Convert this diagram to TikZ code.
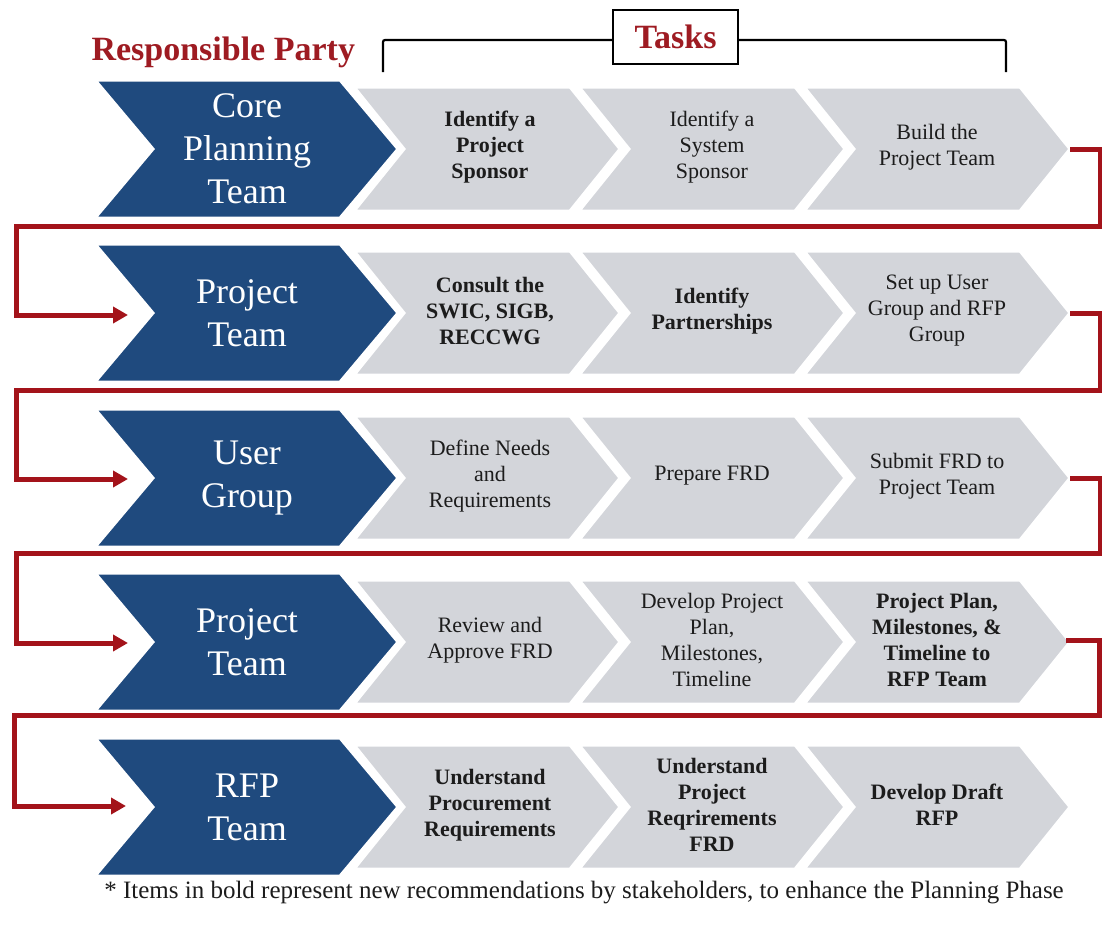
\documentclass[tikz,border=0pt]{standalone}
\usepackage{fontspec}
\setmainfont{Liberation Serif}
\usetikzlibrary{arrows.meta}
\definecolor{navy}{HTML}{1F4A7E}
\definecolor{chevgray}{HTML}{D3D5DA}
\definecolor{flowred}{HTML}{A3131A}
\definecolor{headred}{HTML}{9E1B22}
\definecolor{inktext}{HTML}{1C1C1C}
\begin{document}
\begin{tikzpicture}[x=1pt,y=-1pt,
  bluechev/.style={fill=navy, draw=white, line width=3pt, line join=miter},
  graychev/.style={fill=chevgray, draw=white, line width=3pt, line join=miter},
  bluetext/.style={text=white, align=center, font=\fontsize{36}{43}\selectfont},
  tasktext/.style={text=inktext, align=center, font=\fontsize{22}{26}\selectfont},
  taskbold/.style={text=inktext, align=center, font=\fontsize{22}{26}\selectfont\bfseries},
  headtext/.style={text=headred, font=\fontsize{34}{38}\selectfont\bfseries},
  flow/.style={draw=flowred, line width=5pt, line join=miter, -{Triangle[length=15pt,width=16pt]}},
  bracket/.style={draw=black, line width=2.2pt, rounded corners=2pt}
]
\useasboundingbox (0,0) rectangle (1102,926);
\fill[white] (0,0) rectangle (1102,926);

% chevrons
\foreach \cy in {149,313,478,642,807}{
  \foreach \x in {354,579,804}{
    \draw[graychev] (\x,\cy-62) -- ++(216,0) -- ++(50,62) -- ++(-50,62) -- ++(-216,0) -- ++(50,-62) -- cycle;
  }
  \draw[bluechev] (95,\cy-69) -- (340,\cy-69) -- (398,\cy) -- (340,\cy+69) -- (95,\cy+69) -- (153,\cy) -- cycle;
}

% header
\node[headtext, anchor=base west] (resp) at (88,60) {Responsible Party};
\node[headtext, draw=black, line width=1.4pt, fill=white, minimum width=125pt, minimum height=54pt, inner sep=0pt] (tasks) at (675.5,37) {Tasks};
\draw[bracket] (383,72) -- (383,40) -- (tasks.west |- 0,40);
\draw[bracket] (tasks.east |- 0,40) -- (1006,40) -- (1006,72);

% responsible parties
\node[bluetext] (p1) at (247,149) {Core\\Planning\\Team};
\node[bluetext] (p2) at (247,313) {Project\\Team};
\node[bluetext] (p3) at (247,478) {User\\Group};
\node[bluetext] (p4) at (247,642) {Project\\Team};
\node[bluetext] (p5) at (247,807) {RFP\\Team};

% tasks row 1
\node[taskbold] (t11) at (490,147) {Identify a\\Project\\Sponsor};
\node[tasktext] (t12) at (712,147) {Identify a\\System\\Sponsor};
\node[tasktext] (t13) at (937,147) {Build the\\Project Team};
% row 2
\node[taskbold] (t21) at (490,311) {Consult the\\SWIC, SIGB,\\RECCWG};
\node[taskbold] (t22) at (712,311) {Identify\\Partnerships};
\node[tasktext] (t23) at (937,311) {Set up User\\Group and RFP\\Group};
% row 3
\node[tasktext] (t31) at (490,476) {Define Needs\\and\\Requirements};
\node[tasktext] (t32) at (712,476) {Prepare FRD};
\node[tasktext] (t33) at (937,476) {Submit FRD to\\Project Team};
% row 4
\node[tasktext] (t41) at (490,640) {Review and\\Approve FRD};
\node[tasktext] (t42) at (712,640) {Develop Project\\Plan,\\Milestones,\\Timeline};
\node[taskbold] (t43) at (937,640) {Project Plan,\\Milestones, \&\\Timeline to\\RFP Team};
% row 5
\node[taskbold] (t51) at (490,805) {Understand\\Procurement\\Requirements};
\node[taskbold] (t52) at (712,805) {Understand\\Project\\Reqrirements\\FRD};
\node[taskbold] (t53) at (937,805) {Develop Draft\\RFP};

% connector end points
\coordinate (out1) at (1070,149);
\coordinate (out2) at (1070,313);
\coordinate (out3) at (1070,478);
\coordinate (out4) at (1066,640);
\coordinate (in2) at (128,315);
\coordinate (in3) at (128,479);
\coordinate (in4) at (128,643);
\coordinate (in5) at (126,806);

\draw[flow] (out1) -- (1100,149) -- (1100,226) -- (16,226) |- (in2);
\draw[flow] (out2) -- (1100,313) -- (1100,390) -- (16,390) |- (in3);
\draw[flow] (out3) -- (1100,478) -- (1100,553) -- (16,553) |- (in4);
\draw[flow] (out4) -- (1099,640) -- (1099,715) -- (14,715) |- (in5);

% footnote
\node[text=inktext, font=\fontsize{25}{29}\selectfont] (note) at (584,893) {* Items in bold represent new recommendations by stakeholders, to enhance the Planning Phase};
\end{tikzpicture}
\end{document}
